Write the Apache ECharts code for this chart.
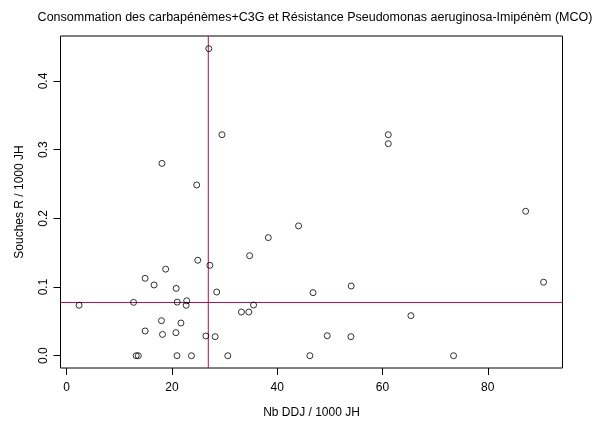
<!DOCTYPE html>
<html>
<head>
<meta charset="utf-8">
<script src="https://cdn.jsdelivr.net/npm/echarts@6/dist/echarts.min.js"></script>
<style>
  html, body { margin: 0; padding: 0; background: #fff; }
  #chart { width: 600px; height: 421px; }
</style>
</head>
<body>
<div id="chart"></div>
<script>
// DDJ / 1000 JH
var ddj = [2.35, 12.7, 13.2, 13.6, 14.9, 14.9, 16.6, 18.0, 18.1, 18.2, 18.8, 20.75, 20.8, 20.95, 21.0,
           21.7, 22.7, 22.8, 23.7, 24.7, 24.9, 26.45, 27.0, 27.2, 28.2, 28.5, 29.5, 30.6, 33.2, 34.6,
           34.75, 35.5, 38.3, 44.05, 46.2, 46.8, 49.5, 54.0, 54.05, 61.1, 61.1, 65.4, 73.5, 87.2, 90.6];
// souches R / 1000 JH
var souches = [0.0735, 0.0777, 0, 0, 0.1127, 0.036, 0.103, 0.051, 0.280, 0.031, 0.126, 0.0335, 0.098, 0, 0.078,
               0.0476, 0.0734, 0.080, 0, 0.2486, 0.139, 0.0287, 0.447, 0.1316, 0.0277, 0.0927, 0.3218, 0, 0.0636, 0.0636,
               0.1456, 0.0738, 0.172, 0.189, 0, 0.0918, 0.0291, 0.0277, 0.1015, 0.3218, 0.3087, 0.0583, 0, 0.2103, 0.107];
var xTicks = [0, 20, 40, 60, 80];
var yTicks = [0, 0.1, 0.2, 0.3, 0.4];
var xRange = [-1.18, 94.2];
var yRange = [-0.0179, 0.4655];
var refX = 26.9;     // ligne verticale
var refY = 0.0775;   // ligne horizontale

var points = [];
for (let i = 0; i < ddj.length; i++) {
    points.push([ddj[i], souches[i]]);
}

var myChart = echarts.init(document.getElementById('chart'));
var font = 'Liberation Sans, Arial, sans-serif';
var refColor = '#a31459';
var option = {
    animation: false,
    title: {
        text: 'Consommation des carbapénèmes+C3G et Résistance Pseudomonas aeruginosa-Imipénèm (MCO)',
        left: 310,
        top: 6,
        textAlign: 'center',
        textStyle: { fontFamily: font, fontSize: 12.5, fontWeight: 'normal', color: '#000' }
    },
    grid: {
        left: 60.5,
        right: 37.5,
        top: 36,
        bottom: 53,
        outerBoundsMode: 'none',
        show: true,
        borderColor: '#000',
        borderWidth: 1,
        backgroundColor: 'transparent'
    },
    xAxis: {
        type: 'value',
        min: xRange[0],
        max: xRange[1],
        name: 'Nb DDJ / 1000 JH',
        nameLocation: 'middle',
        nameGap: 39,
        nameTextStyle: { fontFamily: font, fontSize: 12, color: '#000' },
        splitLine: { show: false },
        axisLine: { show: false, onZero: false },
        axisTick: { show: true, inside: false, length: 7, customValues: xTicks, lineStyle: { color: '#000' } },
        axisLabel: { customValues: xTicks, margin: 14, fontFamily: font, fontSize: 12, color: '#000' }
    },
    yAxis: {
        type: 'value',
        min: yRange[0],
        max: yRange[1],
        name: 'Souches R / 1000 JH',
        nameLocation: 'middle',
        nameGap: 35,
        nameTextStyle: { fontFamily: font, fontSize: 12, color: '#000' },
        splitLine: { show: false },
        axisLine: { show: false, onZero: false },
        axisTick: { show: true, inside: false, length: 7, customValues: yTicks, lineStyle: { color: '#000' } },
        axisLabel: {
            customValues: yTicks,
            rotate: 90,
            margin: 11,
            fontFamily: font,
            fontSize: 12,
            color: '#000',
            formatter: function (v) { return v.toFixed(1); }
        }
    },
    series: [
        {
            type: 'line',
            data: [[refX, yRange[0]], [refX, yRange[1]]],
            symbol: 'none',
            silent: true,
            lineStyle: { color: refColor, width: 1 },
            z: 1
        },
        {
            type: 'line',
            data: [[xRange[0], refY], [xRange[1], refY]],
            symbol: 'none',
            silent: true,
            lineStyle: { color: refColor, width: 1 },
            z: 1
        },
        {
            type: 'scatter',
            data: points,
            symbol: 'circle',
            symbolSize: 6,
            itemStyle: { color: 'rgba(0,0,0,0)', borderColor: '#000', borderWidth: 1 },
            z: 2
        }
    ]
};
myChart.setOption(option);
</script>
</body>
</html>
